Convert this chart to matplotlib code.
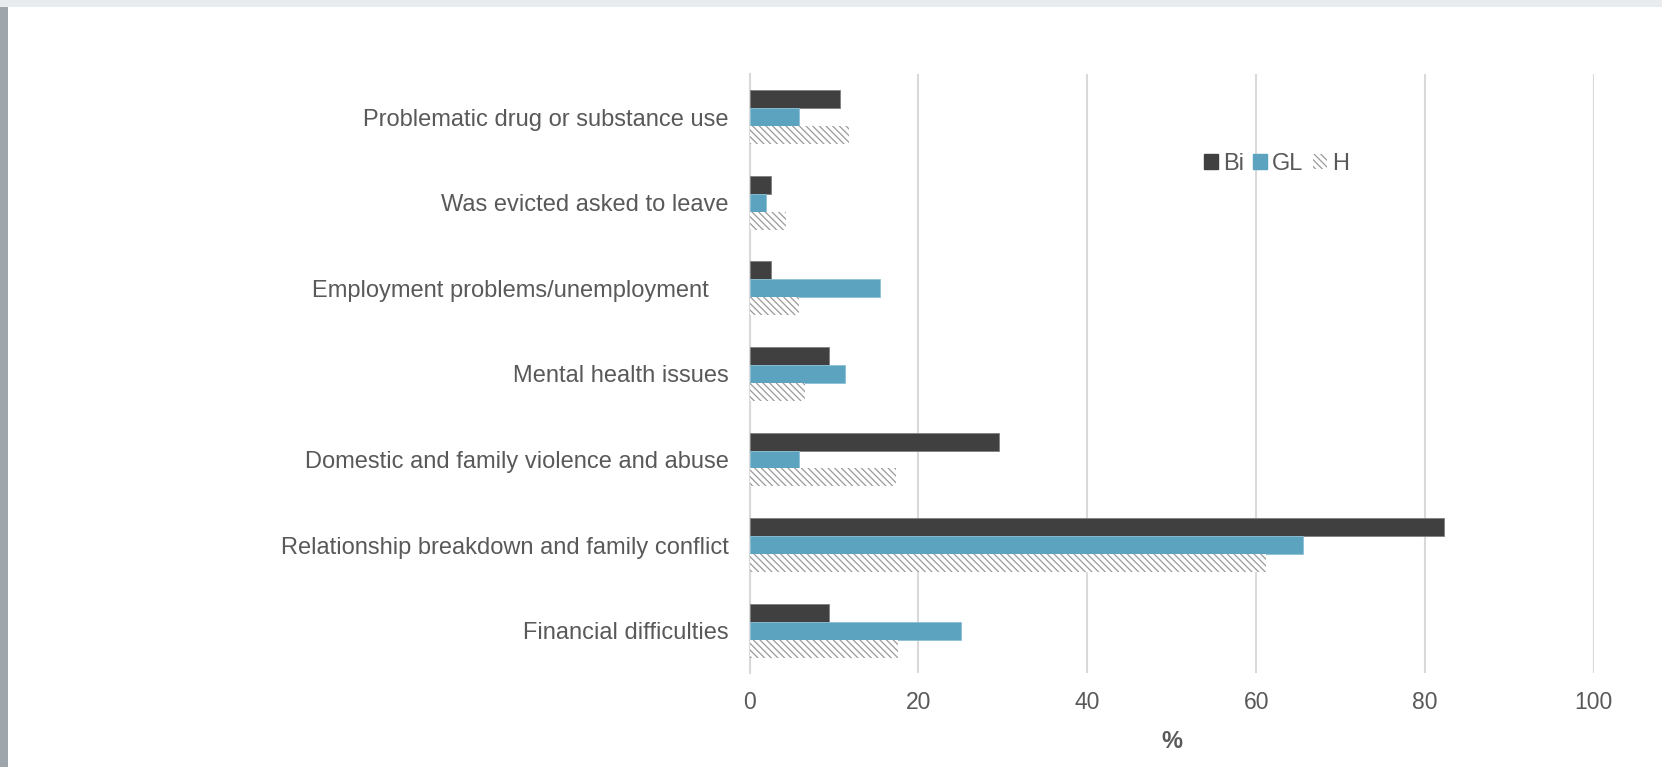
import matplotlib.pyplot as plt
from matplotlib.patches import Rectangle, Patch
import numpy as np

plt.rcParams['font.family'] = ['Liberation Sans', 'DejaVu Sans']
plt.rcParams['hatch.linewidth'] = 0.9
plt.rcParams['hatch.color'] = '#9a9a9a'

# categories listed bottom to top, as drawn
categories = [
    "Financial difficulties",
    "Relationship breakdown and family conflict",
    "Domestic and family violence and abuse",
    "Mental health issues",
    "Employment problems/unemployment   ",
    "Was evicted asked to leave",
    "Problematic drug or substance use",
]
bi = [9.4, 82.3, 29.6, 9.4, 2.5, 2.5, 10.7]
gl = [25.1, 65.5, 5.8, 11.3, 15.4, 1.9, 5.8]
h = [17.6, 61.2, 17.4, 6.6, 5.9, 4.3, 11.8]
xticks = [0, 20, 40, 60, 80, 100]

text_col = "#595959"
bi_col = "#404040"
gl_col = "#5ba3bf"
hatch = "\\" * 5

fig = plt.figure(figsize=(16.62, 7.67), dpi=100)
ax = fig.add_axes([0.451, 0.122, 0.508, 0.781])

y = np.arange(len(categories))
bh = 0.21
ax.barh(y + bh, bi, height=bh, color=bi_col, edgecolor="#7f7f7f", linewidth=0.6, label="Bi", zorder=3)
ax.barh(y, gl, height=bh, color=gl_col, edgecolor="#8cc0d4", linewidth=0.6, label="GL", zorder=3)
ax.barh(y - bh, h, height=bh, color="white", edgecolor="#9a9a9a", linewidth=0, hatch=hatch, label="H", zorder=3)

ax.set_xlim(0, 100)
ax.set_ylim(-0.5, len(categories) - 0.5)
ax.set_xticks(xticks)
ax.set_yticks(y)
ax.set_yticklabels(categories)
ax.tick_params(axis="y", length=0, labelsize=17, colors=text_col, pad=15)
ax.tick_params(axis="x", length=0, labelsize=16.5, colors=text_col, pad=13)
ax.xaxis.grid(True, color="#d9d9d9", linewidth=1.5, zorder=0)
ax.set_axisbelow(True)
for s in ["top", "right", "bottom"]:
    ax.spines[s].set_visible(False)
ax.spines["left"].set_color("#d9d9d9")
ax.spines["left"].set_linewidth(1.5)
ax.set_xlabel("%", fontsize=17, fontweight="bold", color=text_col, labelpad=11)

handles = [
    Patch(facecolor=bi_col, edgecolor=bi_col),
    Patch(facecolor=gl_col, edgecolor=gl_col),
    Patch(facecolor="white", edgecolor="#9a9a9a", linewidth=0, hatch=hatch),
]
leg = fig.legend(handles, ["Bi", "GL", "H"], loc="center", bbox_to_anchor=(0.768, 0.786),
                 ncol=3, frameon=False, fontsize=17, handlelength=0.6, handleheight=0.6,
                 handletextpad=0.2, columnspacing=0.4, borderpad=0)
for t in leg.get_texts():
    t.set_color(text_col)

# shadowed frame around the chart
W, H = 1662, 767
fig.patches.append(Rectangle((0, 0), 8 / W, 1, transform=fig.transFigure,
                             facecolor="#9ea6ab", edgecolor="none", zorder=0))
fig.patches.append(Rectangle((0, 1 - 7 / H), 1, 7 / H, transform=fig.transFigure,
                             facecolor="#e8ecee", edgecolor="none", zorder=0))

fig.savefig("out.png", dpi=100)
